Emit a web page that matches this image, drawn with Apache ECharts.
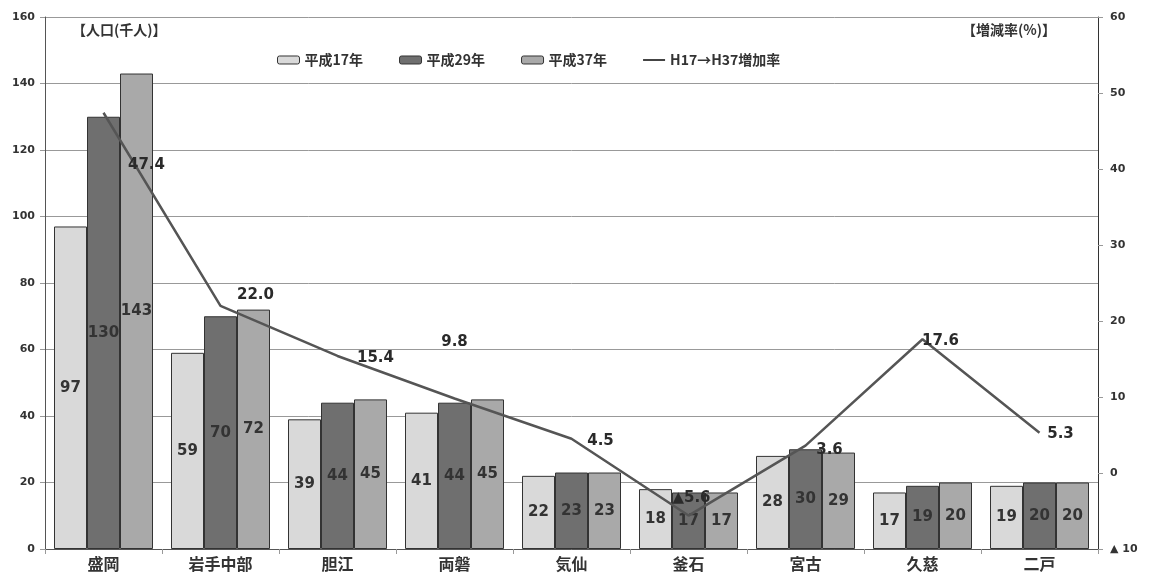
<!DOCTYPE html>
<html><head><meta charset="utf-8">
<script src="https://cdn.jsdelivr.net/npm/echarts@6/dist/echarts.min.js"></script>
<style>html,body{margin:0;padding:0;background:#fff}#c{width:1155px;height:575px}</style>
</head><body><div id="c"></div>
<script>
const categories = ['盛岡','岩手中部','胆江','両磐','気仙','釜石','宮古','久慈','二戸'];
const popH17 = [97,59,39,41,22,18,28,17,19];
const popH29 = [130,70,44,44,23,17,30,19,20];
const popH37 = [143,72,45,45,23,17,29,20,20];
const rateH17toH37 = [47.4,22.0,15.4,9.8,4.5,-5.6,3.6,17.6,5.3];
const seriesNames = ['平成17年','平成29年','平成37年','H17→H37増加率'];
const leftTicks = {min:0,max:160,interval:20};
const rightTicks = {min:-10,max:60,interval:10};

// label offsets for the line labels (style only)
const lineLabelOffsets = [[43,52],[35,-11],[38,2],[0,-56],[29,2],[3,-17],[24,4],[18,2],[21,1]];

const font = '"Noto Sans CJK JP","Noto Sans",sans-serif';
const numFont = '"DejaVu Sans",sans-serif';
const chart = echarts.init(document.getElementById('c'));
const barLabel = {show:true,position:'inside',fontFamily:numFont,fontWeight:'bold',fontSize:15,color:'#333'};
function bar(name,data,color){
  return {name,type:'bar',data,barWidth:33,barGap:'0%',
    itemStyle:{color,borderColor:'#333',borderWidth:1},
    label:barLabel};
}
chart.setOption({
  backgroundColor:'#fff',
  animation:false,
  textStyle:{fontFamily:font},
  grid:{left:45,right:57,top:17,bottom:26},
  legend:{top:48,left:272,itemWidth:22,itemHeight:8,itemGap:36,symbolKeepAspect:true,
    textStyle:{fontFamily:font,fontWeight:'bold',fontSize:14,color:'#333'},
    data:[
      {name:seriesNames[0],itemStyle:{borderColor:'#333',borderWidth:1}},
      {name:seriesNames[1],itemStyle:{borderColor:'#333',borderWidth:1}},
      {name:seriesNames[2],itemStyle:{borderColor:'#333',borderWidth:1}},
      {name:seriesNames[3],icon:'path://M0,0L30,0L30,2.5L0,2.5Z',itemStyle:{color:'#333'}}
    ]},
  graphic:[
    {type:'text',left:72,top:23,style:{text:'【人口(千人)】',font:'bold 14px '+font,fill:'#333'}},
    {type:'text',left:962,top:23,style:{text:'【増減率(%)】',font:'bold 14px '+font,fill:'#333'}}
  ],
  xAxis:{type:'category',data:categories,
    axisLine:{lineStyle:{color:'#555'}},axisTick:{show:true,lineStyle:{color:'#999'}},
    axisLabel:{fontFamily:font,fontSize:16,fontWeight:'bold',color:'#333',margin:7}},
  yAxis:[
    {type:'value',min:leftTicks.min,max:leftTicks.max,interval:leftTicks.interval,
      axisLine:{show:true,lineStyle:{color:'#555'}},axisTick:{show:true,lineStyle:{color:'#999'}},
      splitLine:{lineStyle:{color:'#999',width:1}},
      axisLabel:{fontFamily:numFont,fontWeight:'bold',fontSize:11,color:'#333',margin:10}},
    {type:'value',min:rightTicks.min,max:rightTicks.max,interval:rightTicks.interval,position:'right',
      axisLine:{show:true,lineStyle:{color:'#333'}},axisTick:{show:true,lineStyle:{color:'#999'}},
      splitLine:{show:false},
      axisLabel:{fontFamily:numFont,fontWeight:'bold',fontSize:11,color:'#333',margin:12,
        formatter:v=>v<0?'▲ '+Math.abs(v):String(v)}}
  ],
  series:[
    bar(seriesNames[0],popH17,'#d9d9d9'),
    bar(seriesNames[1],popH29,'#6f6f6f'),
    bar(seriesNames[2],popH37,'#a9a9a9'),
    {name:seriesNames[3],type:'line',yAxisIndex:1,symbol:'none',
      lineStyle:{color:'#555',width:2.5},itemStyle:{color:'#555'},
      data:rateH17toH37,z:5},
    {name:'rateLabels',type:'scatter',yAxisIndex:1,symbolSize:1,
      itemStyle:{color:'#555',opacity:0},
      data:rateH17toH37.map((v,i)=>({value:v,label:{offset:lineLabelOffsets[i]}})),
      label:{show:true,position:'inside',fontFamily:numFont,fontWeight:'bold',fontSize:15,color:'#2a2a2a',opacity:1,
        formatter:p=>{const v=p.value; return v<0?'▲'+Math.abs(v).toFixed(1):v.toFixed(1);}},
      z:6,silent:true}
  ]
});
</script></body></html>
